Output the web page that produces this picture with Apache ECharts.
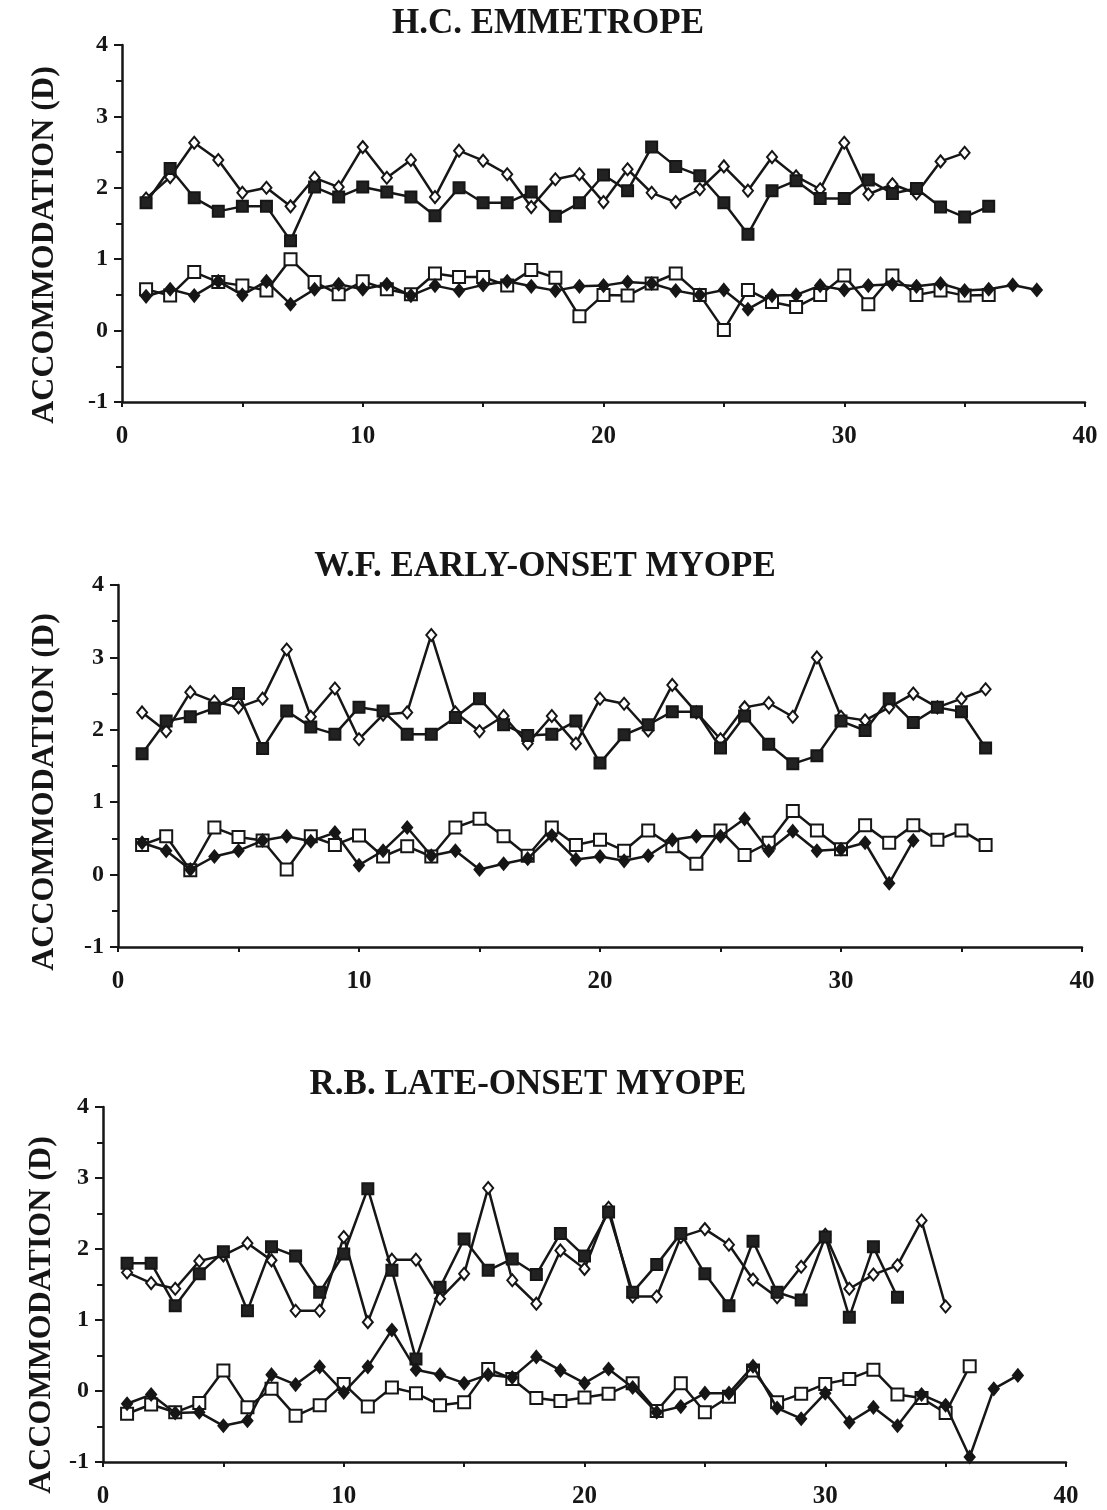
<!DOCTYPE html>
<html>
<head>
<meta charset="utf-8">
<script src="https://cdn.jsdelivr.net/npm/echarts@6/dist/echarts.min.js"></script>
<style>
  html, body { margin: 0; padding: 0; background: #fff; }
  #mainChart { width: 1107px; height: 1510px; }
</style>
</head>
<body>
<div id="mainChart"></div>
<script>
// panel titles
var titles = ['H.C. EMMETROPE', 'W.F. EARLY-ONSET MYOPE', 'R.B. LATE-ONSET MYOPE'];
var yName = 'ACCOMMODATION (D)';
var xTicks = [0, 10, 20, 30, 40];
var yTicks = [-1, 0, 1, 2, 3, 4];

// H.C. emmetrope (trial 1, 2, 3 ...)
var hcOpenDiamond = [1.85, 2.15, 2.63, 2.39, 1.93, 2.0, 1.74, 2.14, 2.01, 2.57, 2.14, 2.39, 1.87, 2.52, 2.38, 2.19, 1.73, 2.12, 2.19, 1.8, 2.26, 1.93, 1.8, 1.98, 2.3, 1.96, 2.43, 2.16, 1.98, 2.63, 1.91, 2.05, 1.92, 2.37, 2.49];
var hcFilledSquare = [1.79, 2.27, 1.86, 1.67, 1.74, 1.74, 1.26, 2.01, 1.87, 2.01, 1.94, 1.87, 1.61, 2.0, 1.79, 1.79, 1.94, 1.6, 1.79, 2.18, 1.96, 2.57, 2.3, 2.17, 1.79, 1.35, 1.96, 2.1, 1.85, 1.85, 2.11, 1.92, 1.99, 1.73, 1.59, 1.74];
var hcOpenSquare = [0.58, 0.49, 0.82, 0.68, 0.63, 0.56, 1.0, 0.68, 0.51, 0.69, 0.58, 0.51, 0.8, 0.75, 0.75, 0.63, 0.85, 0.74, 0.2, 0.5, 0.49, 0.66, 0.8, 0.5, 0.01, 0.57, 0.4, 0.33, 0.5, 0.77, 0.37, 0.77, 0.5, 0.56, 0.49, 0.5];
var hcFilledDiamond = [0.48, 0.58, 0.49, 0.69, 0.5, 0.69, 0.37, 0.58, 0.65, 0.58, 0.65, 0.49, 0.63, 0.56, 0.64, 0.69, 0.62, 0.56, 0.62, 0.63, 0.68, 0.66, 0.56, 0.5, 0.57, 0.3, 0.49, 0.5, 0.63, 0.57, 0.63, 0.65, 0.62, 0.66, 0.56, 0.58, 0.64, 0.57];

// W.F. early-onset myope
var wfOpenDiamond = [2.24, 1.98, 2.52, 2.39, 2.31, 2.43, 3.11, 2.18, 2.57, 1.87, 2.21, 2.24, 3.31, 2.24, 1.98, 2.19, 1.81, 2.19, 1.81, 2.43, 2.36, 1.99, 2.62, 2.24, 1.87, 2.31, 2.37, 2.18, 3.0, 2.18, 2.13, 2.31, 2.5, 2.31, 2.43, 2.56];
var wfFilledSquare = [1.67, 2.12, 2.18, 2.3, 2.5, 1.74, 2.26, 2.04, 1.94, 2.31, 2.26, 1.94, 1.94, 2.17, 2.43, 2.07, 1.92, 1.94, 2.12, 1.54, 1.93, 2.07, 2.25, 2.25, 1.75, 2.19, 1.8, 1.53, 1.64, 2.12, 1.99, 2.43, 2.1, 2.31, 2.25, 1.75];
var wfOpenSquare = [0.41, 0.53, 0.06, 0.65, 0.52, 0.47, 0.07, 0.53, 0.41, 0.54, 0.25, 0.39, 0.25, 0.65, 0.77, 0.53, 0.26, 0.65, 0.41, 0.48, 0.33, 0.61, 0.39, 0.15, 0.61, 0.27, 0.44, 0.88, 0.61, 0.35, 0.68, 0.44, 0.68, 0.48, 0.61, 0.41];
var wfFilledDiamond = [0.44, 0.33, 0.07, 0.25, 0.33, 0.47, 0.53, 0.46, 0.58, 0.13, 0.33, 0.65, 0.26, 0.33, 0.07, 0.15, 0.22, 0.54, 0.21, 0.25, 0.19, 0.26, 0.48, 0.53, 0.53, 0.77, 0.33, 0.6, 0.33, 0.35, 0.44, -0.12, 0.47];

// R.B. late-onset myope
var rbOpenDiamond = [1.67, 1.52, 1.44, 1.83, 1.91, 2.08, 1.84, 1.13, 1.13, 2.17, 0.97, 1.85, 1.85, 1.3, 1.65, 2.86, 1.56, 1.23, 1.98, 1.72, 2.58, 1.33, 1.33, 2.17, 2.28, 2.06, 1.57, 1.32, 1.75, 2.2, 1.44, 1.64, 1.77, 2.4, 1.19];
var rbFilledSquare = [1.8, 1.8, 1.2, 1.65, 1.96, 1.13, 2.03, 1.9, 1.39, 1.93, 2.85, 1.7, 0.45, 1.46, 2.14, 1.7, 1.86, 1.64, 2.22, 1.9, 2.52, 1.39, 1.78, 2.22, 1.65, 1.2, 2.11, 1.39, 1.28, 2.17, 1.04, 2.03, 1.32];
var rbOpenSquare = [-0.32, -0.19, -0.3, -0.17, 0.29, -0.23, 0.03, -0.35, -0.2, 0.1, -0.22, 0.05, -0.03, -0.2, -0.16, 0.31, 0.17, -0.1, -0.14, -0.09, -0.04, 0.11, -0.28, 0.11, -0.3, -0.08, 0.29, -0.16, -0.04, 0.1, 0.17, 0.3, -0.05, -0.1, -0.31, 0.35];
var rbFilledDiamond = [-0.18, -0.05, -0.31, -0.3, -0.49, -0.42, 0.23, 0.09, 0.34, -0.02, 0.34, 0.86, 0.3, 0.23, 0.11, 0.23, 0.19, 0.48, 0.29, 0.11, 0.31, 0.05, -0.3, -0.22, -0.03, -0.03, 0.35, -0.24, -0.39, -0.03, -0.44, -0.23, -0.49, -0.05, -0.2, -0.93, 0.03, 0.22];

var panels = [
    [hcOpenDiamond, hcFilledSquare, hcOpenSquare, hcFilledDiamond],
    [wfOpenDiamond, wfFilledSquare, wfOpenSquare, wfFilledDiamond],
    [rbOpenDiamond, rbFilledSquare, rbOpenSquare, rbFilledDiamond]
];

var ink = '#161616';
var serif = "'Liberation Serif', 'Times New Roman', serif";

// grid boxes (px) and label positions for each panel
var boxes = [
    { left: 122, top: 45, width: 963, height: 357, titleX: 548, titleY: 24, nameX: 45, nameY: 245 },
    { left: 118, top: 585, width: 964, height: 362, titleX: 545, titleY: 567, nameX: 45, nameY: 792 },
    { left: 103, top: 1107, width: 963, height: 355, titleX: 528, titleY: 1085, nameX: 42, nameY: 1315 }
];

// marker styles: open diamond, filled square, open square, filled diamond
var markers = [
    { symbol: 'diamond', size: [10, 12], fill: '#fff' },
    { symbol: 'rect', size: 11, fill: '#222' },
    { symbol: 'rect', size: 12, fill: '#fff' },
    { symbol: 'diamond', size: [10, 12], fill: ink }
];

function toPoints(values) {
    var pts = new Array();
    for (var i = 0; i < values.length; i++) {
        pts.push([i + 1, values[i]]);
    }
    return pts;
}

var grids = [], xAxes = [], yAxes = [], series = [], graphics = [];
for (var p = 0; p < 3; p++) {
    var b = boxes[p];
    grids.push({ left: b.left, top: b.top, width: b.width, height: b.height, containLabel: false });
    xAxes.push({
        type: 'value', gridIndex: p,
        min: xTicks[0], max: xTicks[xTicks.length - 1], interval: 10,
        axisLine: { onZero: false, lineStyle: { color: ink, width: 2.5 } },
        axisTick: { show: true, length: 5, lineStyle: { color: ink, width: 2 } },
        minorTick: { show: true, splitNumber: 2, length: 5, lineStyle: { color: ink, width: 2 } },
        splitLine: { show: false },
        axisLabel: { color: ink, fontFamily: serif, fontWeight: 'bold', fontSize: 25, margin: 22 }
    });
    yAxes.push({
        type: 'value', gridIndex: p,
        min: yTicks[0], max: yTicks[yTicks.length - 1], interval: 1,
        axisLine: { show: true, onZero: false, lineStyle: { color: ink, width: 2.5 } },
        axisTick: { show: true, length: 8, lineStyle: { color: ink, width: 2 } },
        minorTick: { show: true, splitNumber: 2, length: 6, lineStyle: { color: ink, width: 2 } },
        splitLine: { show: false },
        axisLabel: { color: ink, fontFamily: serif, fontWeight: 'bold', fontSize: 24, margin: 14 }
    });
    for (var s = 0; s < 4; s++) {
        var m = markers[s];
        series.push({
            type: 'line', xAxisIndex: p, yAxisIndex: p,
            data: toPoints(panels[p][s]),
            symbol: m.symbol, symbolSize: m.size, showAllSymbol: true,
            lineStyle: { color: ink, width: 2.5 },
            itemStyle: { color: m.fill, borderColor: ink, borderWidth: 2, opacity: 1 },
            z: 2 + s
        });
    }
    graphics.push({
        type: 'text', x: b.titleX, y: b.titleY,
        style: { text: titles[p], align: 'center', verticalAlign: 'middle', fill: ink, font: 'bold 35px ' + serif }
    });
    graphics.push({
        type: 'text', x: b.nameX, y: b.nameY, rotation: Math.PI / 2,
        style: { text: yName, align: 'center', verticalAlign: 'middle', fill: ink, font: 'bold 32px ' + serif }
    });
}

var myChart = echarts.init(document.getElementById('mainChart'));
myChart.setOption({
    animation: false,
    backgroundColor: '#fff',
    grid: grids,
    xAxis: xAxes,
    yAxis: yAxes,
    series: series,
    graphic: graphics
});
</script>
</body>
</html>
